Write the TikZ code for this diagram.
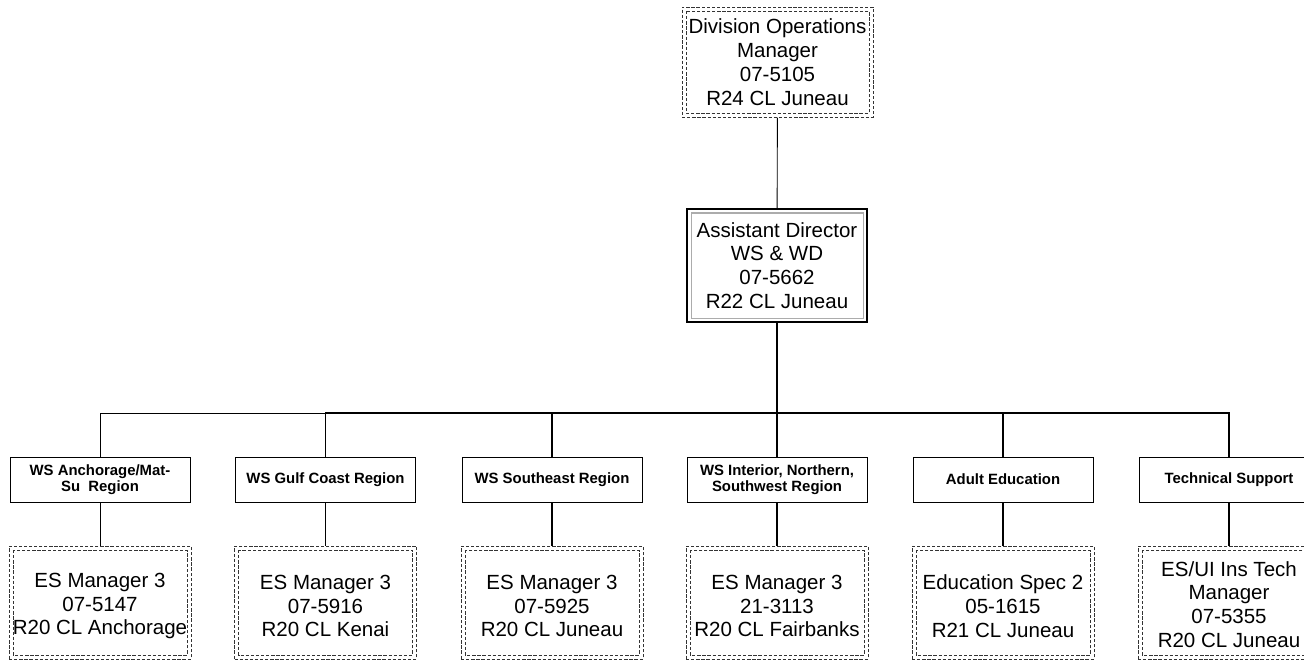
\documentclass[tikz,border=0pt]{standalone}
\usepackage{fontspec}
\setmainfont{Liberation Sans}
\begin{document}
\begin{tikzpicture}[x=1pt,y=-1pt]
\tikzset{
  bigtext/.style={font=\fontsize{20.5}{23.8}\selectfont, align=center, text=black},
  dashline/.style={draw=black!80, dash pattern=on 3.3pt off 1.8pt, line width=1pt},
  posbox/.style={bigtext, dashline, inner sep=0pt,
    minimum width=182pt, minimum height=113pt},
  postext/.style={bigtext, inner sep=0pt},
  topbox/.style={posbox, minimum width=191pt, minimum height=110pt},
  adbox/.style={bigtext, draw=black, line width=1.2pt, inner sep=0pt,
    minimum width=180pt, minimum height=113pt},
  deptbox/.style={draw=black, line width=0.8pt, inner sep=0pt, align=center,
    font=\fontsize{14.9}{16.5}\selectfont\bfseries,
    minimum width=180pt, minimum height=45pt},
  thinlink/.style={draw=black, line width=0.9pt},
  thicklink/.style={draw=black, line width=1.8pt}
}
\useasboundingbox (0,0) rectangle (1304,662);
\fill[white] (0,0) rectangle (1304,662);

% top
\node[topbox] (top) at (777.5,62) {Division Operations\\Manager\\07-5105\\R24 CL Juneau};
\node[adbox] (ad) at (777,265.5) {Assistant Director\\WS \& WD\\07-5662\\R22 CL Juneau};
\draw[gray!65, line width=1.2pt] ([shift={(5pt,-4.5pt)}]ad.north west) rectangle ([shift={(-4pt,4.5pt)}]ad.south east);

\coordinate (bus) at (777,413);

% departments
\node[deptbox] (d1) at (100,479.5) {WS Anchorage/Mat-\\Su\ \ Region};
\node[deptbox] (d2) at (325.5,479.5) {WS Gulf Coast Region};
\node[deptbox] (d3) at (552,479.5) {WS Southeast Region};
\node[deptbox] (d4) at (777,479.5) {WS Interior, Northern,\\Southwest Region};
\node[deptbox] (d5) at (1003,479.5) {Adult Education};
\node[deptbox] (d6) at (1229,479.5) {Technical Support};

% positions
\foreach \n/\x in {p1/100,p2/325.5,p3/552,p4/777,p5/1003,p6/1229} {
  \node[posbox] (\n) at (\x,602.5) {};
  \draw[dashline] ([shift={(4.5pt,-4.5pt)}]\n.north west) rectangle ([shift={(-4.5pt,4.5pt)}]\n.south east);
}
\draw[dashline] ([shift={(4.5pt,-4.5pt)}]top.north west) rectangle ([shift={(-4.5pt,4.5pt)}]top.south east);

\node[postext] (t1) at ([yshift=-3.5pt]p1.center) {ES Manager 3\\07-5147\\R20 CL Anchorage};
\node[postext] (t2) at ([yshift=-3.5pt]p2.center) {ES Manager 3\\07-5916\\R20 CL Kenai};
\node[postext] (t3) at ([yshift=-3.5pt]p3.center) {ES Manager 3\\07-5925\\R20 CL Juneau};
\node[postext] (t4) at ([yshift=-3.5pt]p4.center) {ES Manager 3\\21-3113\\R20 CL Fairbanks};
\node[postext] (t5) at ([yshift=-3.5pt]p5.center) {Education Spec 2\\05-1615\\R21 CL Juneau};
\node[postext] (t6) at ([yshift=-2pt]p6.center) {ES/UI Ins Tech\\Manager\\07-5355\\R20 CL Juneau};

% connectors
\draw[thinlink] (top) -- (ad);
\draw[thinlink] (d1.north) |- (bus);
\draw[thinlink] (d1) -- (p1);
\draw[thicklink] (ad) -- (bus);
\foreach \i in {2,...,6} {
  \draw[thicklink] (d\i.north) |- (bus);
  \draw[thicklink] (d\i) -- (p\i);
}
\end{tikzpicture}
\end{document}
